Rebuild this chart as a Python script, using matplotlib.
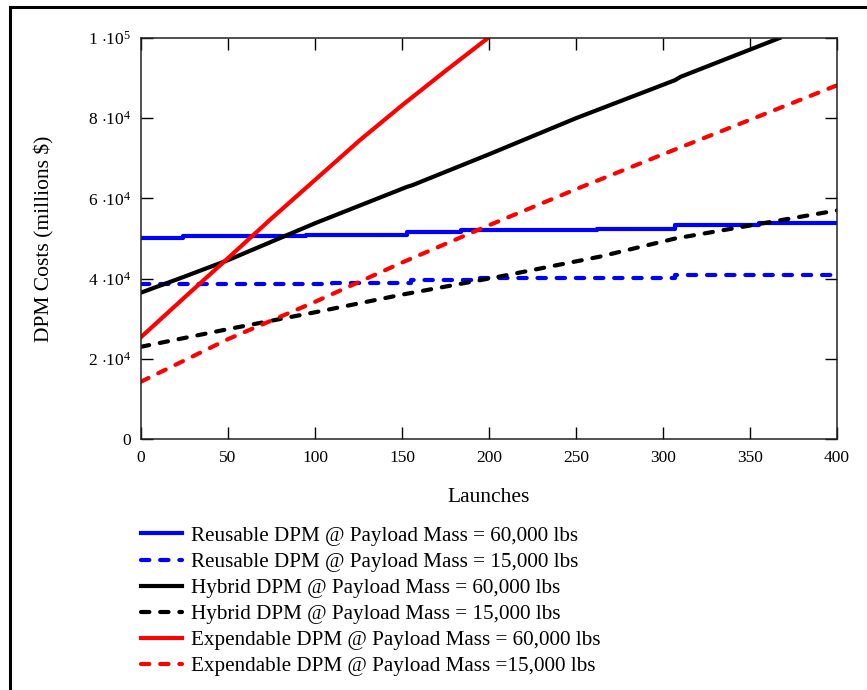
import matplotlib
matplotlib.use("Agg")
import matplotlib.pyplot as plt
from matplotlib.lines import Line2D

plt.rcParams['font.family'] = ['Liberation Serif', 'DejaVu Serif']
plt.rcParams['mathtext.fontset'] = 'custom'
plt.rcParams['mathtext.rm'] = 'Liberation Serif'
plt.rcParams['mathtext.it'] = 'Liberation Serif:italic'

# ---- data (launches, DPM cost in millions $) ----
reuse60_x = [0, 24, 95, 153, 184, 262, 307, 355, 400]
reuse60_y = [50200, 50500, 50800, 51500, 52000, 52400, 53400, 53800, 53800]

reuse15_x = [0, 110, 155, 195, 307, 400]
reuse15_y = [38600, 39000, 39600, 40100, 40900, 40900]

hybrid60_x = [0, 25, 50, 100, 153, 156, 200, 250, 307, 310, 367]
hybrid60_y = [36500, 40500, 44600, 53800, 62900, 63300, 71000, 80000, 89500, 90300, 100000]

hybrid15_x = [0, 50, 100, 150, 206, 264, 307, 400]
hybrid15_y = [23000, 27400, 31600, 36000, 40500, 45500, 50000, 57000]

exp60_x = [0, 25, 50, 75, 100, 126, 150, 175, 200]
exp60_y = [25400, 35300, 45100, 55000, 64600, 74600, 83200, 91800, 100200]

exp15_x = [0, 50, 100, 150, 200, 250, 300, 350, 400]
exp15_y = [14300, 24900, 34200, 44000, 53300, 62300, 71000, 79600, 88200]

labels = [
    "Reusable DPM @ Payload Mass = 60,000 lbs",
    "Reusable DPM @ Payload Mass = 15,000 lbs",
    "Hybrid DPM @ Payload Mass = 60,000 lbs",
    "Hybrid DPM @ Payload Mass = 15,000 lbs",
    "Expendable DPM @ Payload Mass = 60,000 lbs",
    "Expendable DPM @ Payload Mass =15,000 lbs",
]

xticks = [0, 50, 100, 150, 200, 250, 300, 350, 400]
yticks = [0, 20000, 40000, 60000, 80000, 100000]
yticklabels = ["0", r"2 $\cdot$10$^{4}$", r"4 $\cdot$10$^{4}$", r"6 $\cdot$10$^{4}$",
               r"8 $\cdot$10$^{4}$", r"1 $\cdot$10$^{5}$"]

W, H = 867, 690
fig = plt.figure(figsize=(W / 100, H / 100), dpi=100)
ax = fig.add_axes([141 / W, 1 - 439 / H, (837 - 141) / W, (439 - 38) / H])

lw = 3.0
dash = (2.0, 2.6)
ax.plot(reuse60_x, reuse60_y, color='#0000ff', lw=lw, drawstyle='steps-post', label=labels[0])
ax.plot(reuse15_x, reuse15_y, color='#0000ff', lw=lw, drawstyle='steps-post', ls=(0, dash),
        dash_capstyle='round', label=labels[1])
ax.plot(hybrid60_x, hybrid60_y, color='black', lw=lw, label=labels[2])
ax.plot(hybrid15_x, hybrid15_y, color='black', lw=lw, ls=(0, dash), dash_capstyle='round', label=labels[3])
ax.plot(exp60_x, exp60_y, color='#ff0000', lw=lw, label=labels[4])
ax.plot(exp15_x, exp15_y, color='#ff0000', lw=lw, ls=(0, dash), dash_capstyle='round', label=labels[5])

ax.set_xlim(0, 400)
ax.set_ylim(0, 100000)
ax.set_xticks(xticks)
ax.set_xticklabels([str(v) for v in xticks])
ax.set_yticks(yticks)
ax.set_yticklabels(yticklabels)
ax.tick_params(direction='in', length=8.5, width=1.0, top=True, right=True,
               labelsize=12.5, colors='black')
ax.tick_params(axis='x', pad=8)
ax.tick_params(axis='y', pad=7)
for s in ax.spines.values():
    s.set_linewidth(1.1)
    s.set_color('#222222')

ax.set_xlabel("Launches", fontsize=15.5, labelpad=15.5)
ax.set_ylabel("DPM Costs (millions $)", fontsize=15.5, labelpad=24)

handles, labs = ax.get_legend_handles_labels()
fig.legend(handles, labs, loc='upper left', bbox_to_anchor=(141 / W, 1 - 526 / H),
           frameon=False, fontsize=15.2, handlelength=1.95, handletextpad=0.43,
           labelspacing=0.3, borderpad=0, borderaxespad=0)

# outer frame (left and top edges)
fig.add_artist(Line2D([10 / W, 10 / W], [0, 1 - 7 / H], color='black', lw=2.2,
                      transform=fig.transFigure, solid_capstyle='projecting'))
fig.add_artist(Line2D([10 / W, 1], [1 - 7 / H, 1 - 7 / H], color='black', lw=2.2,
                      transform=fig.transFigure, solid_capstyle='projecting'))

fig.savefig("out.png", dpi=100)
